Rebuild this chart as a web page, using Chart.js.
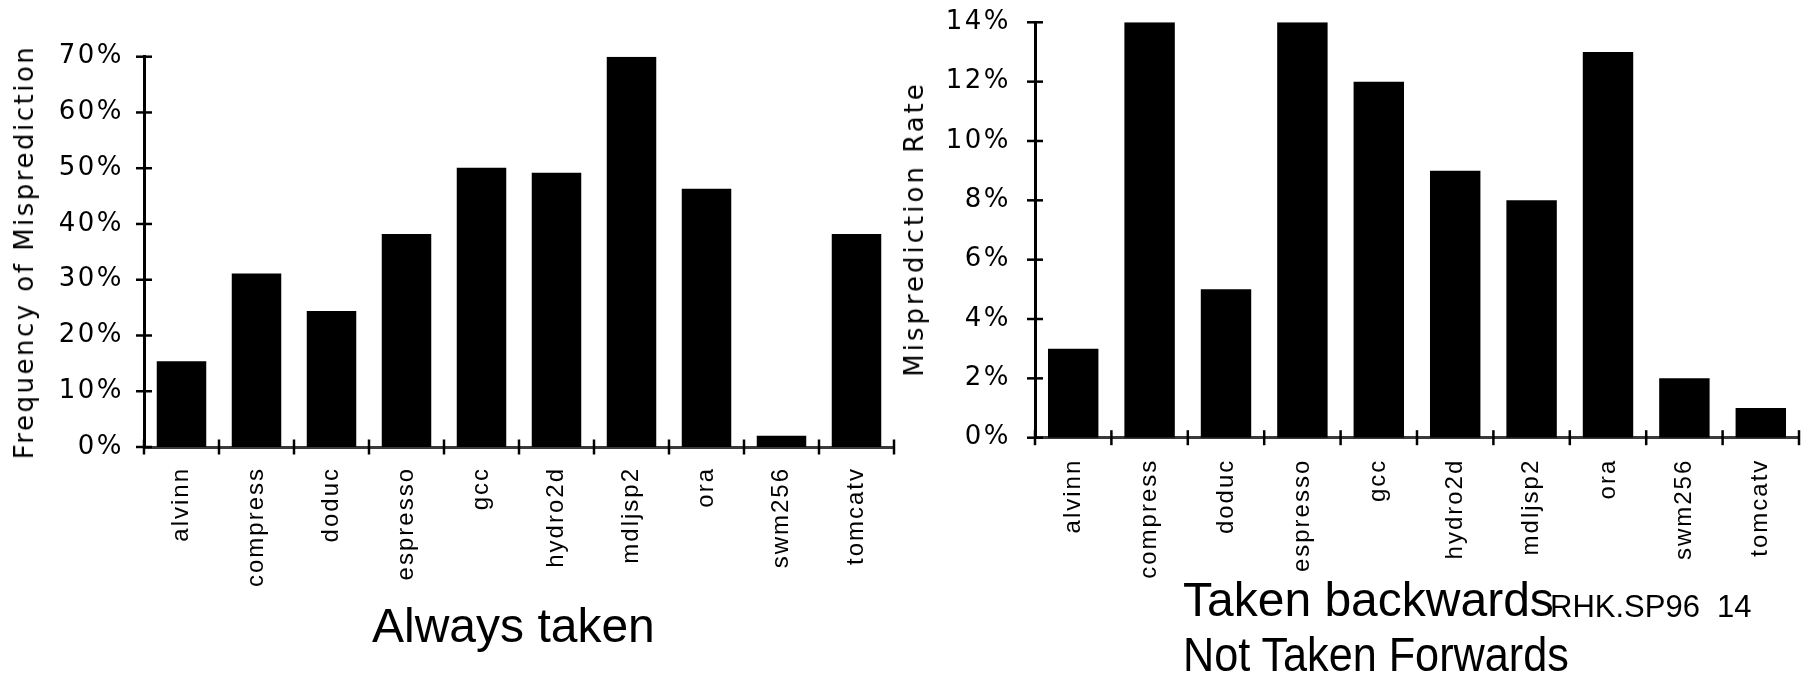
<!DOCTYPE html>
<html>
<head>
<meta charset="utf-8">
<script src="https://cdn.jsdelivr.net/npm/chart.js@4/dist/chart.umd.min.js"></script>
<style>
html,body{margin:0;padding:0;background:#fff;width:1808px;height:676px;overflow:hidden;}
canvas{position:absolute;left:0;top:0;}
.t{position:absolute;font-family:"Liberation Sans",Arial,sans-serif;color:#000;white-space:pre;line-height:1;}
.yt{position:absolute;font-family:"DejaVu Sans",sans-serif;font-size:26px;line-height:1;color:#000;white-space:nowrap;transform-origin:center;transform:translate(-50%,-50%) rotate(-90deg);}
</style>
</head>
<body>
<canvas id="left" width="1808" height="676"></canvas>
<canvas id="right" width="1808" height="676"></canvas>

<div class="yt" style="left:24px;top:251.5px;letter-spacing:2.5px;">Frequency of Misprediction</div>
<div class="yt" style="left:914px;top:229px;letter-spacing:3px;">Misprediction Rate</div>

<div class="t" style="left:372px;top:602px;font-size:48px;">Always taken</div>
<div class="t" style="left:1183px;top:576px;font-size:48px;">Taken backwards</div>
<div class="t" style="left:1183px;top:631px;font-size:48px;transform-origin:left center;transform:scaleX(0.9);">Not Taken Forwards</div>
<div class="t" style="left:1550px;top:591px;font-size:31px;">RHK.SP96  14</div>

<script>
// ---- data ----
const categories = ['alvinn','compress','doduc','espresso','gcc','hydro2d','mdljsp2','ora','swm256','tomcatv'];
const alwaysTakenValues = [15.4, 31.1, 24.4, 38.2, 50.1, 49.2, 70, 46.3, 2, 38.2];
const backwardsTakenValues = [3, 14, 5, 14, 12, 9, 8, 13, 2, 1];
const leftTickValues = [0, 10, 20, 30, 40, 50, 60, 70];
const rightTickValues = [0, 2, 4, 6, 8, 10, 12, 14];

// letter spacing for tick labels
const spacingPlugin = {
  id: 'spacing',
  beforeDraw(chart) {
    Object.values(chart.scales).forEach(s => {
      if (s._lsPatched) return;
      const orig = s.drawLabels;
      const ls = s.axis === 'x' ? '2px' : '2.5px';
      s.drawLabels = function(area) {
        const c = this.ctx;
        c.save();
        c.letterSpacing = ls;
        orig.call(this, area);
        c.restore();
      };
      s._lsPatched = true;
    });
  }
};

// tick marks crossing the axes
const crossTicks = {
  id: 'crossTicks',
  afterDraw(chart) {
    const {ctx, chartArea: a, scales: {x, y}} = chart;
    ctx.save();
    ctx.strokeStyle = '#000';
    ctx.lineWidth = 2.5;
    y.ticks.forEach(t => {
      const py = y.getPixelForValue(t.value);
      ctx.beginPath(); ctx.moveTo(a.left - 8, py); ctx.lineTo(a.left + 8, py); ctx.stroke();
    });
    const n = x.ticks.length;
    for (let i = 0; i <= n; i++) {
      let px;
      if (i === 0) px = a.left;
      else if (i === n) px = a.right;
      else px = (x.getPixelForValue(i - 1) + x.getPixelForValue(i)) / 2;
      ctx.beginPath(); ctx.moveTo(px, a.bottom - 7.5); ctx.lineTo(px, a.bottom + 7.5); ctx.stroke();
    }
    ctx.restore();
  }
};

function makeChart(id, values, tickValues, cfg) {
  return new Chart(document.getElementById(id), {
    type: 'bar',
    data: {
      labels: categories,
      datasets: [{data: values, backgroundColor: '#000', borderWidth: 0, barPercentage: 0.66, categoryPercentage: 1}]
    },
    options: {
      responsive: false,
      animation: false,
      devicePixelRatio: 1,
      layout: {padding: cfg.padding},
      plugins: {legend: {display: false}, tooltip: {enabled: false}, title: {display: false}},
      scales: {
        x: {
          grid: {display: false, drawTicks: false},
          border: {display: true, color: '#3a3a3a', width: 3},
          ticks: {
            minRotation: 90, maxRotation: 90, autoSkip: false, padding: cfg.xPad, color: '#000',
            font: {family: '"Liberation Sans", Arial, sans-serif', size: 24}
          },
          afterFit(s) { s.height = cfg.xHeight; s.paddingLeft = 0; s.paddingRight = 0; }
        },
        y: {
          min: 0, max: tickValues[tickValues.length - 1],
          grid: {display: false, drawTicks: false},
          border: {display: true, color: '#000', width: 3},
          afterBuildTicks(s) { s.ticks = tickValues.map(v => ({value: v})); },
          ticks: {
            padding: cfg.yPad, color: '#000',
            font: {family: '"DejaVu Sans", sans-serif', size: 26},
            callback: v => v + '%'
          },
          afterFit(s) { s.width = cfg.yWidth; s.paddingTop = 0; s.paddingBottom = 0; }
        }
      }
    },
    plugins: [spacingPlugin, crossTicks]
  });
}

makeChart('left', alwaysTakenValues, leftTickValues, {
  padding: {left: 0, top: 56.7, right: 1808 - 894, bottom: 676 - 447 - 200},
  yWidth: 144, xHeight: 200, yPad: 20, xPad: 20
});
makeChart('right', backwardsTakenValues, rightTickValues, {
  padding: {left: 885, top: 22.3, right: 9, bottom: 676 - 437.7 - 200},
  yWidth: 150, xHeight: 200, yPad: 24, xPad: 21
});
</script>
</body>
</html>
